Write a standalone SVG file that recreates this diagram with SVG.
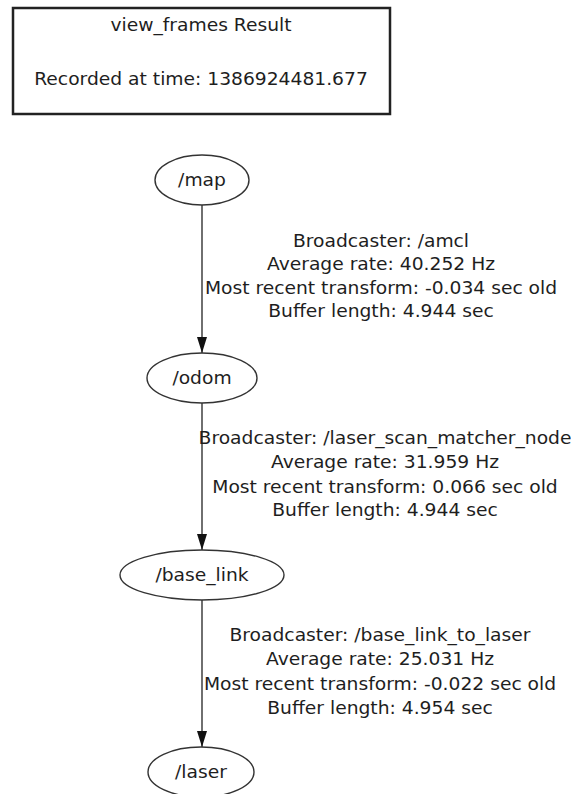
<svg xmlns="http://www.w3.org/2000/svg" width="571" height="794" viewBox="0 0 571 794">
<style>
text{font-family:"DejaVu Sans","Liberation Sans",sans-serif;font-size:17px;fill:#1e1e1e;text-anchor:middle}
.n{fill:#fff;stroke:#333;stroke-width:1.4}
.e{stroke:#333;stroke-width:1.4;fill:none;marker-end:url(#ah)}
</style>
<defs>
<marker id="ah" markerUnits="userSpaceOnUse" markerWidth="16" markerHeight="10" refX="16" refY="5" orient="auto" viewBox="0 0 16 10">
<path d="M0,0 L16,5 L0,10 Z" fill="#111"/>
</marker>
</defs>
<rect width="571" height="794" fill="#fff"/>
<g id="title">
<rect x="13" y="8" width="377" height="106" fill="#fff" stroke="#222" stroke-width="2.5"/>
<text transform="translate(201,31) scale(1.1,1)">view_frames Result</text>
<text transform="translate(201,85) scale(1.1,1)">Recorded at time: 1386924481.677</text>
</g>
<g id="edges">
<g id="e_map_odom">
<line class="e" x1="202" y1="205" x2="202" y2="353"/>
<text transform="translate(381,247) scale(1.1,1)">Broadcaster: /amcl</text>
<text transform="translate(381,270) scale(1.1,1)">Average rate: 40.252 Hz</text>
<text transform="translate(381,294) scale(1.1,1)">Most recent transform: -0.034 sec old</text>
<text transform="translate(381,317) scale(1.1,1)">Buffer length: 4.944 sec</text>
</g>
<g id="e_odom_base">
<line class="e" x1="202" y1="403" x2="202" y2="550"/>
<text transform="translate(385,444) scale(1.1,1)">Broadcaster: /laser_scan_matcher_node</text>
<text transform="translate(385,468) scale(1.1,1)">Average rate: 31.959 Hz</text>
<text transform="translate(385,493) scale(1.1,1)">Most recent transform: 0.066 sec old</text>
<text transform="translate(385,516) scale(1.1,1)">Buffer length: 4.944 sec</text>
</g>
<g id="e_base_laser">
<line class="e" x1="202" y1="600" x2="202" y2="747"/>
<text transform="translate(380,641) scale(1.1,1)">Broadcaster: /base_link_to_laser</text>
<text transform="translate(380,665) scale(1.1,1)">Average rate: 25.031 Hz</text>
<text transform="translate(380,690) scale(1.1,1)">Most recent transform: -0.022 sec old</text>
<text transform="translate(380,714) scale(1.1,1)">Buffer length: 4.954 sec</text>
</g>
</g>
<g id="map">
<ellipse class="n" cx="202" cy="180" rx="47" ry="25"/>
<text transform="translate(202,186) scale(1.1,1)">/map</text>
</g>
<g id="odom">
<ellipse class="n" cx="202" cy="378" rx="55" ry="25"/>
<text transform="translate(202,384) scale(1.1,1)">/odom</text>
</g>
<g id="base_link">
<ellipse class="n" cx="202" cy="575" rx="82" ry="25"/>
<text transform="translate(202,581) scale(1.1,1)">/base_link</text>
</g>
<g id="laser">
<ellipse class="n" cx="201" cy="772" rx="53" ry="25"/>
<text transform="translate(201,778) scale(1.1,1)">/laser</text>
</g>
</svg>
